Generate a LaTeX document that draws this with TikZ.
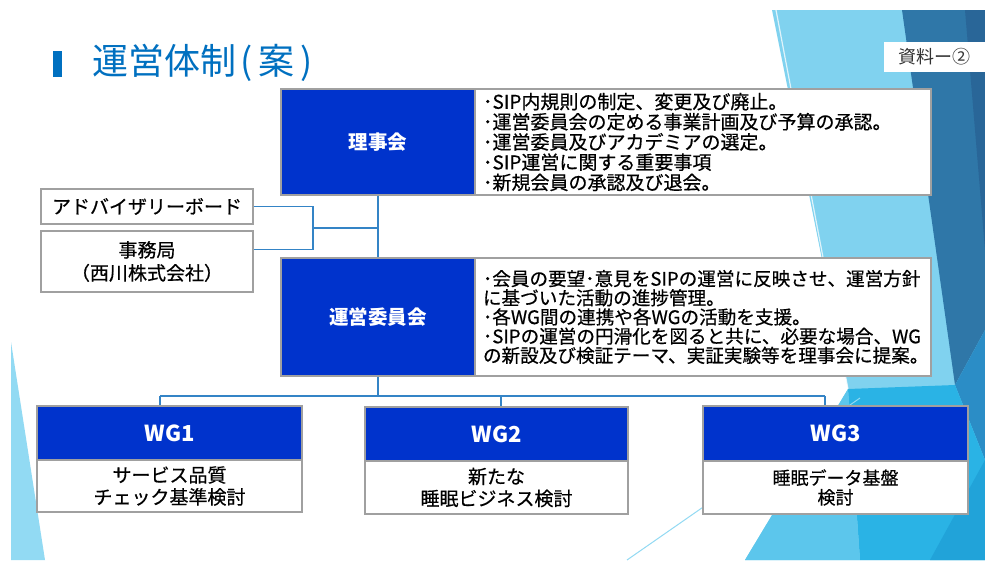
\documentclass[tikz,border=0pt]{standalone}
\usepackage{fontspec}
\setmainfont{Noto Sans CJK JP}
\usetikzlibrary{calc}
\definecolor{titleblue}{RGB}{0,112,192}
\definecolor{boxblue}{RGB}{0,51,204}
\definecolor{connblue}{RGB}{52,132,198}
\definecolor{bordergray}{RGB}{160,160,160}
\definecolor{bgA}{RGB}{128,210,239}
\definecolor{bgB}{RGB}{47,119,168}
\definecolor{bgC}{RGB}{41,102,152}
\definecolor{bgM}{RGB}{43,141,198}
\definecolor{bgD}{RGB}{42,179,229}
\definecolor{bgE}{RGB}{33,163,217}
\definecolor{bgF}{RGB}{92,198,236}
\definecolor{bgL}{RGB}{146,218,243}
\newcommand{\medw}{\addfontfeatures{FakeBold=0.5}}
\tikzset{
  bluebox/.style={draw=bordergray, line width=1.2pt, fill=boxblue, text=white, inner sep=0pt, font=\fontsize{19.5}{22}\selectfont\bfseries},
  textbox/.style={draw=bordergray, line width=1.2pt, fill=white, text=black, inner xsep=8pt, inner ysep=1pt, align=left, text width=440pt},
  sidebox/.style={draw=bordergray, line width=1.2pt, fill=white, text=black, inner sep=0pt, align=center, minimum width=212pt, font=\fontsize{19}{23}\selectfont\medw},
  wghead/.style={draw=bordergray, line width=1.2pt, fill=boxblue, text=white, inner sep=0pt, font=\fontsize{22}{24}\selectfont\bfseries},
  wgbody/.style={draw=bordergray, line width=1.2pt, fill=white, text=black, inner sep=0pt, align=center, font=\fontsize{19}{22}\selectfont\medw},
  conn/.style={draw=connblue, line width=1.3pt},
}
\begin{document}
\begin{tikzpicture}[x=1pt,y=-1pt]
\useasboundingbox (0,0) rectangle (985,560);
\fill[white] (0,0) rectangle (985,560);
% background facets
\fill[bgA] (772,10) -- (985,10) -- (985,560) -- (745,560) -- (848,389) -- cycle;
\draw[white, opacity=0.75, line width=1.2pt] (776,10) -- (848,389);
\fill[bgB] (902,10) -- (985,10) -- (985,330) -- (955,385) -- cycle;
\fill[bgC] (965,10) -- (985,10) -- (985,250) -- cycle;
\fill[bgM] (955,385) -- (985,330) -- (985,460) -- cycle;
\fill[bgD] (848,389) -- (955,385) -- (985,460) -- (985,560) -- (860,560) -- cycle;
\fill[bgF] (848,389) -- (860,560) -- (745,560) -- cycle;
\fill[bgE] (985,460) -- (985,560) -- (930,560) -- cycle;
\draw[bgL, line width=1pt] (627,560) -- (860,398);
\fill[bgL] (11,342) -- (45,560) -- (11,560) -- cycle;
% title
\fill[titleblue] (53,51) rectangle (62,77);
\node[anchor=west, text=titleblue, inner sep=0pt, font=\fontsize{36}{40}\selectfont] (title) at (92,63) {運営体制\hspace{4pt}(\hspace{6pt}案\hspace{6pt})};
\node[fill=white, minimum width=101pt, minimum height=30pt, inner sep=0pt, text={black!80}, font=\fontsize{18}{20}\selectfont] (ref) at (934.5,57) {資料ー②};
% rijikai
\node[bluebox, minimum width=194pt, minimum height=106pt] (rij) at (378,142) {理事会};
\node[textbox, minimum height=106pt, font=\fontsize{19}{20.2}\selectfont\medw] (rijt) at (703,142) {%
･SIP内規則の制定、変更及び廃止。\\
･運営委員会の定める事業計画及び予算の承認。\\
･運営委員及びアカデミアの選定。\\
･SIP運営に関する重要事項\\
･新規会員の承認及び退会。};
% unei
\node[bluebox, minimum width=194pt, minimum height=118pt] (unei) at (378,317) {運営委員会};
\node[textbox, minimum height=118pt, font=\fontsize{18.6}{19.2}\selectfont\medw] (ueit) at (703,317) {%
･会員の要望･意見をSIPの運営に反映させ、運営方針\\
に基づいた活動の進捗管理。\\
･各WG間の連携や各WGの活動を支援。\\
･SIPの運営の円滑化を図ると共に、必要な場合、WG\\
の新設及び検証テーマ、実証実験等を理事会に提案。};
% side boxes
\node[sidebox, minimum height=35pt] (adv) at (147,206.5) {アドバイザリーボード};
\node[sidebox, minimum height=61pt] (jimu) at (147,261.5) {事務局\\（西川株式会社）};
% WG boxes
\node[wghead, minimum width=265pt, minimum height=54pt] (wg1) at (169.5,433) {WG1};
\node[wgbody, minimum width=265pt, minimum height=52pt] (wg1b) at (169.5,486) {サービス品質\\チェック基準検討};
\node[wghead, minimum width=263pt, minimum height=54pt] (wg2) at (496.5,434) {WG2};
\node[wgbody, minimum width=263pt, minimum height=53pt] (wg2b) at (496.5,487.5) {新たな\\睡眠ビジネス検討};
\node[wghead, minimum width=265pt, minimum height=55pt] (wg3) at (835.5,433.5) {WG3};
\node[wgbody, minimum width=265pt, minimum height=53pt, font=\fontsize{18}{19.5}\selectfont\medw] (wg3b) at (835.5,487.5) {睡眠データ基盤\\検討};
% connectors
\coordinate (bx) at (313,228);
\coordinate (b1) at (160,396);
\coordinate (b2) at (501,396);
\coordinate (b3) at (825,396);
\draw[conn] (rij.south) -- (unei.north);
\draw[conn] (adv.east) -| (bx) |- ($(jimu.north east)!0.31!(jimu.south east)$);
\draw[conn] (bx) -- (bx -| rij.south);
\draw[conn] (unei.south) -- (unei.south |- b1);
\draw[conn] (b1) -- (b3);
\draw[conn] (b1) -- (b1 |- wg1.north);
\draw[conn] (b2) -- (b2 |- wg2.north);
\draw[conn] (b3) -- (b3 |- wg3.north);
\end{tikzpicture}
\end{document}
